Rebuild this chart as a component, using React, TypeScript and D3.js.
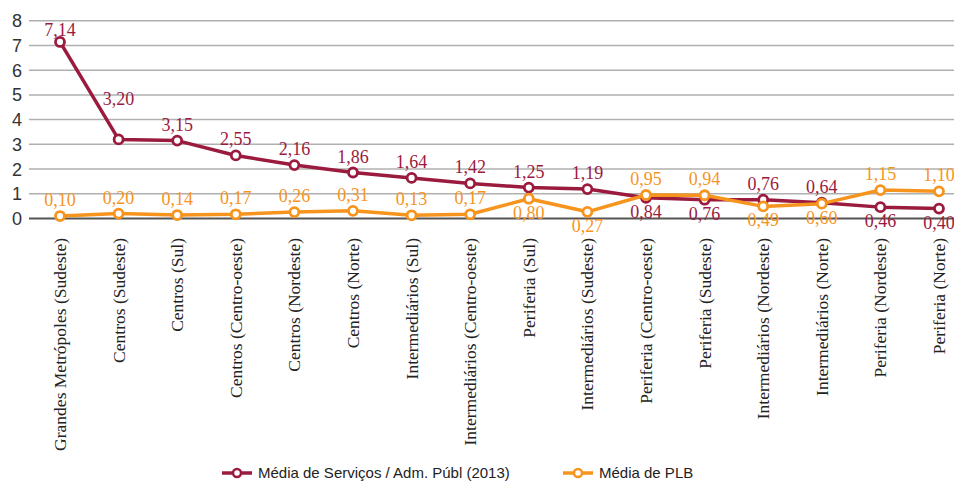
import React from "react";
import * as d3 from "d3";

// categories (region types)
const categories = [
  "Grandes Metrópoles (Sudeste)",
  "Centros (Sudeste)",
  "Centros (Sul)",
  "Centros (Centro-oeste)",
  "Centros (Nordeste)",
  "Centros (Norte)",
  "Intermediários (Sul)",
  "Intermediários (Centro-oeste)",
  "Periferia (Sul)",
  "Intermediários (Sudeste)",
  "Periferia (Centro-oeste)",
  "Periferia (Sudeste)",
  "Intermediários (Nordeste)",
  "Intermediários (Norte)",
  "Periferia (Nordeste)",
  "Periferia (Norte)",
];

const servicos = [7.14, 3.2, 3.15, 2.55, 2.16, 1.86, 1.64, 1.42, 1.25, 1.19, 0.84, 0.76, 0.76, 0.64, 0.46, 0.4];
const plb = [0.1, 0.2, 0.14, 0.17, 0.26, 0.31, 0.13, 0.17, 0.8, 0.27, 0.95, 0.94, 0.49, 0.6, 1.15, 1.1];

const yTicks = [0, 1, 2, 3, 4, 5, 6, 7, 8];

const seriesNames = ["Média de Serviços / Adm. Públ (2013)", "Média de PLB"];

// label side: true = above the point
const servicosAbove = categories.map((_, i) => i < 10 || i === 12 || i === 13);
const plbAbove = categories.map((_, i) => !(i === 8 || i === 9 || i === 12 || i === 13));

const RED = "#9b1b3e";
const ORANGE = "#f7941d";
const SERIF = "'Liberation Serif', 'Times New Roman', serif";
const SANS = "'Liberation Sans', Arial, sans-serif";
const fmt = (v: number) => v.toFixed(2).replace(".", ",");

export default function App() {
  const width = 954;
  const height = 481;
  const x = d3
    .scalePoint<string>()
    .domain(categories)
    .range([60, 60 + 58.6 * 15]);
  const y = d3.scaleLinear().domain([0, 8]).range([218.5, 20.7]);

  const line = d3
    .line<number>()
    .x((_, i) => x(categories[i])!)
    .y((d) => y(d));

  const series = [
    { name: seriesNames[0], values: servicos, color: RED, above: servicosAbove },
    { name: seriesNames[1], values: plb, color: ORANGE, above: plbAbove },
  ];

  return (
    <svg
      width={width}
      height={height}
      style={{ position: "absolute", left: 0, top: 0 }}
    >
      <rect width={width} height={height} fill="#fff" />
      {/* grid */}
      {yTicks.map((t) => (
        <g key={t}>
          <line
            x1={29}
            x2={width}
            y1={y(t)}
            y2={y(t)}
            stroke={t === 0 ? "#555" : "#b0b0b0"}
            strokeWidth={t === 0 ? 2 : 1.5}
          />
          <text
            x={22}
            y={y(t)}
            dy="0.36em"
            textAnchor="end"
            fontFamily={SANS}
            fontSize={18}
            fill="#333"
          >
            {t}
          </text>
        </g>
      ))}

      {/* category labels */}
      {categories.map((c) => (
        <text
          key={c}
          transform={`translate(${x(c)! + 6},238) rotate(-90)`}
          textAnchor="end"
          fontFamily={SERIF}
          fontSize={17.5}
          fill="#222"
        >
          {c}
        </text>
      ))}

      {/* lines */}
      {series.map((s) => (
        <g key={s.name}>
          <path d={line(s.values) ?? ""} fill="none" stroke={s.color} strokeWidth={3.5} strokeLinejoin="round" />
          {s.values.map((v, i) => (
            <circle
              key={i}
              cx={x(categories[i])}
              cy={y(v)}
              r={4.5}
              fill="#fff"
              stroke={s.color}
              strokeWidth={2.8}
            />
          ))}
        </g>
      ))}

      {/* data labels */}
      {series.map((s) =>
        s.values.map((v, i) => {
          let dy = s.above[i] ? -10 : 20;
          if (s.values === servicos && i === 1) dy = -34;
          if (s.values === servicos && i === 0) dy = -6;
          return (
            <text
              key={s.name + i}
              x={x(categories[i])}
              y={y(v) + dy}
              textAnchor="middle"
              fontFamily={SERIF}
              fontSize={18}
              fill={s.color}
            >
              {fmt(v)}
            </text>
          );
        })
      )}

      {/* legend */}
      {series.map((s, i) => {
        const lx = i === 0 ? 222 : 563;
        const ly = 473;
        return (
          <g key={s.name}>
            <line x1={lx} x2={lx + 30} y1={ly} y2={ly} stroke={s.color} strokeWidth={3.5} />
            <circle cx={lx + 15} cy={ly} r={4} fill="#fff" stroke={s.color} strokeWidth={2.5} />
            <text
              x={lx + 36}
              y={ly}
              dy="0.35em"
              fontFamily={SANS}
              fontSize={15}
              fill="#222"
            >
              {s.name}
            </text>
          </g>
        );
      })}
    </svg>
  );
}
